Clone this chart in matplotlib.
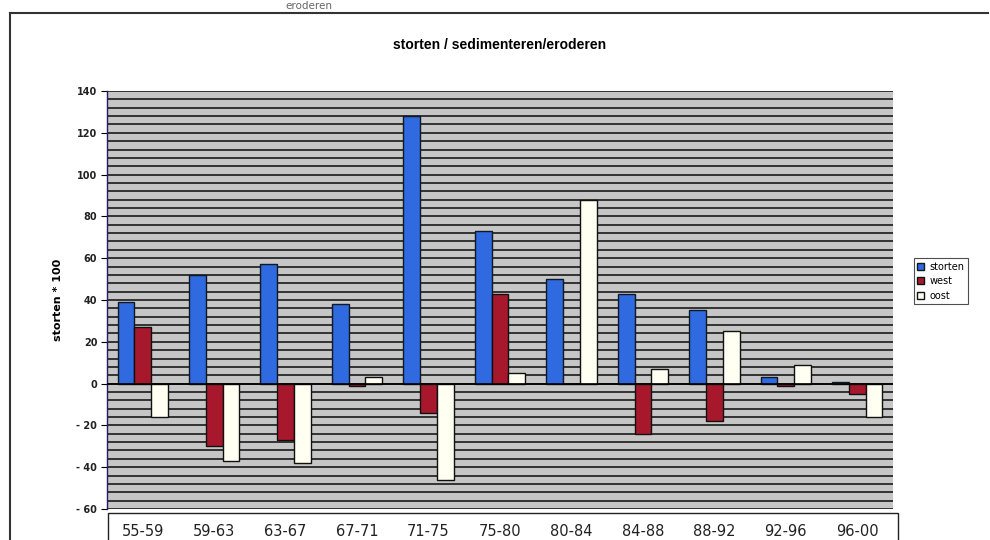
import numpy as np
import matplotlib
matplotlib.use('Agg')
import matplotlib.pyplot as plt
from matplotlib.patches import Rectangle
from matplotlib.lines import Line2D


periodes = ['55-59', '59-63', '63-67', '67-71', '71-75', '75-80',
            '80-84', '84-88', '88-92', '92-96', '96-00']

storten = [39, 52, 57, 38, 128, 73, 50, 43, 35, 3, 1]
west = [27, -30, -27, -1, -14, 43, 0, -24, -18, -1, -5]
oost = [-16, -37, -38, 3, -46, 5, 88, 7, 25, 9, -16]

y_ticks = [-60, -40, -20, 0, 20, 40, 60, 80, 100, 120, 140]
y_labels = ['- 60', '- 40', '- 20', '0', '20', '40', '60', '80', '100',
            '120', '140']

W, H = 990, 540
fig = plt.figure(figsize=(W / 100, H / 100), dpi=100)
fig.patch.set_facecolor('white')

ax = fig.add_axes([107 / W, 1 - 509 / H, 786 / W, 418 / H])
ax.set_facecolor('#c6c6c6')

# hatched gridlines of the scan, every 4 units
for y in np.arange(-60, 141, 4):
    ax.axhline(y, color='#1a1a1a', lw=1.2, zorder=1)

index = np.arange(len(periodes))
w = 0.235
ax.bar(index - w, storten, w, color='#2f6ae0', edgecolor='#101820',
       lw=1.0, label='storten', zorder=3)
ax.bar(index, west, w, color='#a8182c', edgecolor='#101010',
       lw=1.0, label='west', zorder=3)
ax.bar(index + w, oost, w, color='#fffff2', edgecolor='#101010',
       lw=1.0, label='oost', zorder=3)
ax.axhline(0, color='black', lw=1.2, zorder=4)

ax.set_xlim(-0.5, len(periodes) - 0.5)
ax.set_ylim(-60, 140)
ax.set_yticks(y_ticks)
ax.set_yticklabels(y_labels, fontsize=7, fontweight='bold', color='#222222')
ax.set_xticks(index)
ax.set_xticklabels(periodes, fontsize=10.5, color='#222222')
ax.tick_params(axis='x', length=0, pad=11)
ax.tick_params(axis='y', length=4, width=0.8, direction='out', pad=3)

for s in ['top', 'right', 'bottom']:
    ax.spines[s].set_visible(False)
ax.spines['left'].set_color('#202060')
ax.spines['left'].set_linewidth(1.0)

ax.set_ylabel('storten * 100', fontsize=8, fontweight='bold', labelpad=10)
fig.text(500 / W, 1 - 45 / H, 'storten / sedimenteren/eroderen',
         ha='center', va='center', fontsize=10, fontweight='bold',
         family='Liberation Sans')

leg = ax.legend(loc='center left', bbox_to_anchor=(1.02, 0.545),
                fontsize=7, frameon=True, fancybox=False, handlelength=0.7,
                handleheight=0.7, handletextpad=0.5, borderpad=0.4,
                labelspacing=0.45, edgecolor='#222222')
leg.get_frame().set_linewidth(0.8)

# box around the category labels
fig.patches.append(Rectangle((108 / W, -0.02), 790 / W, (H - 513) / H + 0.02,
                             transform=fig.transFigure, facecolor='none',
                             edgecolor='#222222', lw=1.0))

# outer chart frame
fig.add_artist(Line2D([10 / W, 988 / W], [1 - 13 / H, 1 - 13 / H],
                      color='#333333', lw=1.5))
fig.add_artist(Line2D([10 / W, 10 / W], [0, 1 - 13 / H],
                      color='#333333', lw=1.5))
fig.text(285 / W, 1 - 1 / H, 'eroderen', ha='left', va='top', fontsize=7.5,
         color='#666666')

plt.savefig('out.png', dpi=100)
